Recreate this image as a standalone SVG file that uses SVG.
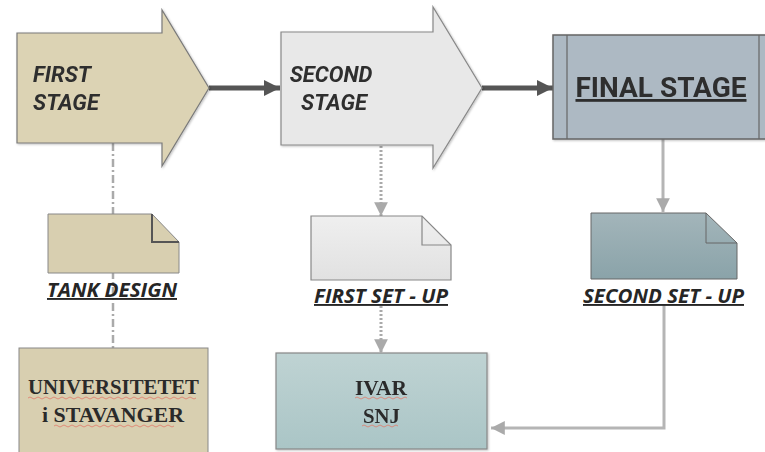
<svg xmlns="http://www.w3.org/2000/svg" width="765" height="452" viewBox="0 0 765 452">
  <style>
    .stage { font-family: Roboto, "Liberation Sans", sans-serif; font-weight: bold; font-style: italic; font-size: 22px; fill: #2f2f2f; }
    .final { font-family: Roboto, "Liberation Sans", sans-serif; font-weight: bold; font-size: 28px; fill: #2f2f2f; text-decoration: underline; }
    .doclabel { font-family: "Open Sans", "Liberation Sans", sans-serif; font-weight: bold; font-style: italic; font-size: 19px; fill: #262626; text-decoration: underline; }
    .serif { font-family: "Liberation Serif", "DejaVu Serif", serif; font-size: 20px; fill: #2a2a2a; font-weight: bold; }
    .squiggle { fill: none; stroke: #e07a6a; stroke-width: 0.8; }
    .edge-main { stroke: #555; stroke-width: 5; fill: none; }
    .edge-light { stroke: #b5b5b5; stroke-width: 3; fill: none; }
    .edge-dot { stroke: #aaa; stroke-width: 3; stroke-dasharray: 2 2; fill: none; }
    .edge-dashdot { stroke: #aaa; stroke-width: 2.5; stroke-dasharray: 8 3 2 3; fill: none; }
  </style>
  <defs>
    <marker id="headDark" viewBox="0 0 10 10" refX="10" refY="5" markerWidth="3.6" markerHeight="3.2" markerUnits="strokeWidth" orient="auto">
      <path d="M0,0 L10,5 L0,10 z" fill="#555"/>
    </marker>
    <marker id="headLight" viewBox="0 0 10 10" refX="10" refY="5" markerWidth="5" markerHeight="4.6" markerUnits="strokeWidth" orient="auto">
      <path d="M0,0 L10,5 L0,10 z" fill="#aaa"/>
    </marker>
    <linearGradient id="gTeal" x1="0" y1="0" x2="0" y2="1">
      <stop offset="0" stop-color="#a3b5ba"/>
      <stop offset="1" stop-color="#8aa3a9"/>
    </linearGradient>
    <linearGradient id="gGray" x1="0" y1="0" x2="0" y2="1">
      <stop offset="0" stop-color="#efefef"/>
      <stop offset="1" stop-color="#e1e1e1"/>
    </linearGradient>
    <linearGradient id="gIvar" x1="0" y1="0" x2="0" y2="1">
      <stop offset="0" stop-color="#bfd3d3"/>
      <stop offset="1" stop-color="#aac5c6"/>
    </linearGradient>
    <filter id="shadow" x="-10%" y="-10%" width="130%" height="130%">
      <feDropShadow dx="1" dy="1" stdDeviation="1" flood-color="#000" flood-opacity="0.25"/>
    </filter>
  </defs>

  <!-- connectors -->
  <g id="connectors">
    <line class="edge-main" x1="209" y1="88" x2="280" y2="88" marker-end="url(#headDark)"/>
    <line class="edge-main" x1="482" y1="88" x2="553" y2="88" marker-end="url(#headDark)"/>
    <line class="edge-dashdot" x1="113" y1="143" x2="113" y2="348"/>
    <line class="edge-dot" x1="381" y1="146" x2="381" y2="216" marker-end="url(#headLight)"/>
    <line class="edge-dot" x1="381" y1="306" x2="381" y2="353" marker-end="url(#headLight)"/>
    <line class="edge-light" x1="663" y1="139" x2="663" y2="212" marker-end="url(#headLight)"/>
    <polyline class="edge-light" points="664,305 664,428 491,428" marker-end="url(#headLight)"/>
  </g>

  <!-- first stage -->
  <g id="first-stage" filter="url(#shadow)">
    <path d="M17,33 H162 V10 L209,88 L162,166 V143 H17 Z" fill="#dcd3b4" stroke="#7a7a7a" stroke-width="1.2"/>
    <text class="stage" x="33" y="82">FIRST</text>
    <text class="stage" x="33" y="110">STAGE</text>
  </g>

  <!-- second stage -->
  <g id="second-stage" filter="url(#shadow)">
    <path d="M281,32 H433 V7 L482,88 L433,168 V145 H281 Z" fill="#e8e8e8" stroke="#888" stroke-width="1.2"/>
    <text class="stage" x="331" y="82" text-anchor="middle">SECOND</text>
    <text class="stage" x="334" y="110" text-anchor="middle">STAGE</text>
  </g>

  <!-- final stage -->
  <g id="final-stage" filter="url(#shadow)">
    <rect x="553" y="35" width="220" height="104" fill="#adb9c3" stroke="#666" stroke-width="1.5"/>
    <line x1="567" y1="35" x2="567" y2="139" stroke="#666" stroke-width="1.2"/>
    <line x1="759" y1="35" x2="759" y2="139" stroke="#666" stroke-width="1.2"/>
    <text class="final" x="661" y="97" text-anchor="middle">FINAL STAGE</text>
  </g>

  <!-- tank design document -->
  <g id="tank-design">
    <path d="M48,214 H152 L179,242 V273 H48 Z" fill="#d8cfb0" stroke="#888" stroke-width="1"/>
    <path d="M152,214 V242 H179" fill="none" stroke="#555" stroke-width="2"/>
    <text class="doclabel" x="47" y="297" textLength="130" lengthAdjust="spacingAndGlyphs">TANK DESIGN</text>
  </g>

  <!-- first set-up document -->
  <g id="first-setup">
    <path d="M311,216 H422 L451,245 V280 H311 Z" fill="url(#gGray)" stroke="#888" stroke-width="1.2"/>
    <path d="M422,216 V245 H451" fill="none" stroke="#888" stroke-width="1.2"/>
    <text class="doclabel" x="314" y="303" textLength="134" lengthAdjust="spacingAndGlyphs">FIRST SET - UP</text>
  </g>

  <!-- second set-up document -->
  <g id="second-setup">
    <path d="M591,213 H706 L737,243 V279 H591 Z" fill="url(#gTeal)" stroke="#666" stroke-width="1"/>
    <path d="M706,213 V243 H737" fill="none" stroke="#666" stroke-width="1"/>
    <text class="doclabel" x="583" y="303" textLength="161" lengthAdjust="spacingAndGlyphs">SECOND SET - UP</text>
  </g>

  <!-- university box -->
  <g id="universitetet">
    <rect x="19" y="348" width="189" height="110" fill="#d8cfb0" stroke="#888" stroke-width="1"/>
    <text class="serif" x="28" y="394" textLength="171" lengthAdjust="spacingAndGlyphs">UNIVERSITETET</text>
    <text class="serif" x="42" y="422" textLength="142" lengthAdjust="spacingAndGlyphs">i STAVANGER</text>
    <path class="squiggle" d="M28,398 q2,-2 4,0 t4,0 t4,0 t4,0 t4,0 t4,0 t4,0 t4,0 t4,0 t4,0 t4,0 t4,0 t4,0 t4,0 t4,0 t4,0 t4,0 t4,0 t4,0 t4,0 t4,0 t4,0 t4,0 t4,0 t4,0 t4,0 t4,0 t4,0 t4,0 t4,0 t4,0 t4,0 t4,0 t4,0 t4,0 t4,0 t4,0 t4,0 t4,0 t4,0 t4,0 t4,0"/>
    <path class="squiggle" d="M54,426 q2,-2 4,0 t4,0 t4,0 t4,0 t4,0 t4,0 t4,0 t4,0 t4,0 t4,0 t4,0 t4,0 t4,0 t4,0 t4,0 t4,0 t4,0 t4,0 t4,0 t4,0 t4,0 t4,0 t4,0 t4,0 t4,0 t4,0 t4,0 t4,0 t4,0 t4,0"/>
  </g>

  <!-- ivar box -->
  <g id="ivar" filter="url(#shadow)">
    <rect x="276" y="353" width="211" height="96" fill="url(#gIvar)" stroke="#888" stroke-width="1.2"/>
    <text class="serif" x="355" y="395" textLength="52" lengthAdjust="spacingAndGlyphs">IVAR</text>
    <text class="serif" x="363" y="423" textLength="37" lengthAdjust="spacingAndGlyphs">SNJ</text>
    <path class="squiggle" d="M355,398 q2,-2 4,0 t4,0 t4,0 t4,0 t4,0 t4,0 t4,0 t4,0 t4,0 t4,0 t4,0 t4,0 t4,0"/>
    <path class="squiggle" d="M362,426 q2,-2 4,0 t4,0 t4,0 t4,0 t4,0 t4,0 t4,0 t4,0 t4,0"/>
  </g>
</svg>
